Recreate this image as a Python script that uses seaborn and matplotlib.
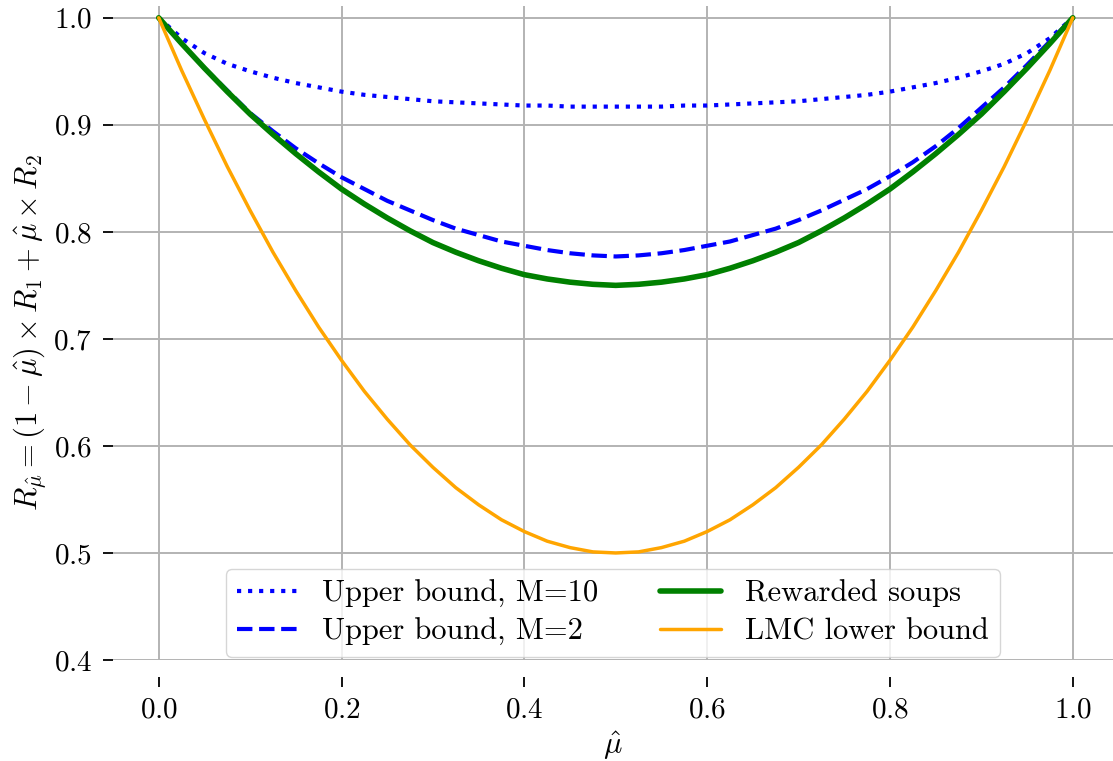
import pandas as pd
import matplotlib
matplotlib.use('Agg')
import matplotlib.pyplot as plt
import seaborn as sns

# values
mu = [0.0, 0.025, 0.05, 0.075, 0.1, 0.125, 0.15, 0.175, 0.2, 0.225, 0.25,
      0.275, 0.3, 0.325, 0.35, 0.375, 0.4, 0.425, 0.45, 0.475, 0.5,
      0.525, 0.55, 0.575, 0.6, 0.625, 0.65, 0.675, 0.7, 0.725, 0.75,
      0.775, 0.8, 0.825, 0.85, 0.875, 0.9, 0.925, 0.95, 0.975, 1.0]
upper_m10 = [1.0, 0.981, 0.967, 0.957, 0.950, 0.944, 0.939, 0.935, 0.931, 0.928, 0.926,
             0.924, 0.922, 0.921, 0.920, 0.919, 0.918, 0.918, 0.917, 0.917, 0.917,
             0.917, 0.917, 0.918, 0.918, 0.919, 0.920, 0.921, 0.922, 0.924, 0.926,
             0.928, 0.931, 0.935, 0.939, 0.944, 0.950, 0.957, 0.967, 0.981, 1.0]
upper_m2 = [1.0, 0.976, 0.953, 0.932, 0.911, 0.894, 0.878, 0.864, 0.851, 0.840, 0.829,
            0.820, 0.811, 0.803, 0.797, 0.791, 0.787, 0.783, 0.780, 0.778, 0.777,
            0.778, 0.780, 0.783, 0.787, 0.791, 0.797, 0.803, 0.811, 0.820, 0.830,
            0.840, 0.852, 0.865, 0.880, 0.897, 0.916, 0.935, 0.956, 0.978, 1.0]
rewarded_soups = [1.0, 0.976, 0.953, 0.931, 0.910, 0.891, 0.873, 0.856, 0.840, 0.826, 0.813,
                  0.801, 0.790, 0.781, 0.773, 0.766, 0.760, 0.756, 0.753, 0.751, 0.750,
                  0.751, 0.753, 0.756, 0.760, 0.766, 0.773, 0.781, 0.790, 0.801, 0.813,
                  0.826, 0.840, 0.856, 0.873, 0.891, 0.910, 0.931, 0.953, 0.976, 1.0]
lmc_lower = [1.0, 0.951, 0.905, 0.861, 0.820, 0.781, 0.745, 0.711, 0.680, 0.651, 0.625,
             0.601, 0.580, 0.561, 0.545, 0.531, 0.520, 0.511, 0.505, 0.501, 0.500,
             0.501, 0.505, 0.511, 0.520, 0.531, 0.545, 0.561, 0.580, 0.601, 0.625,
             0.651, 0.680, 0.711, 0.745, 0.781, 0.820, 0.861, 0.905, 0.951, 1.0]

x_ticks = [0.0, 0.2, 0.4, 0.6, 0.8, 1.0]
y_ticks = [0.4, 0.5, 0.6, 0.7, 0.8, 0.9, 1.0]

sns.set_style("whitegrid")
plt.rcParams['font.family'] = ['cmr10', 'DejaVu Serif']
plt.rcParams['mathtext.fontset'] = 'cm'
plt.rcParams['axes.formatter.use_mathtext'] = True
plt.rcParams['axes.unicode_minus'] = False
for key in ['text.color', 'axes.labelcolor', 'xtick.color', 'ytick.color']:
    plt.rcParams[key] = 'black'

fig = plt.figure(figsize=(11.13, 7.61), dpi=100)
ax = fig.add_axes([113 / 1113, 101 / 761, 1000 / 1113, 654 / 761])

df = pd.DataFrame({'mu': mu, 'm10': upper_m10, 'm2': upper_m2,
                   'rs': rewarded_soups, 'lmc': lmc_lower})

sns.lineplot(data=df, x='mu', y='m10', ax=ax, color='blue', linestyle=':', lw=3,
             label='Upper bound, M=10')
sns.lineplot(data=df, x='mu', y='m2', ax=ax, color='blue', linestyle='--', lw=3,
             label='Upper bound, M=2')
sns.lineplot(data=df, x='mu', y='rs', ax=ax, color='green', lw=4,
             label='Rewarded soups')
sns.lineplot(data=df, x='mu', y='lmc', ax=ax, color='orange', lw=2.5,
             label='LMC lower bound')

ax.set_xlim(-0.05, 1.044)
ax.set_ylim(0.4, 1.011)
ax.set_xticks(x_ticks)
ax.set_yticks(y_ticks)
ax.grid(True, color='#b3b3b3', lw=1.4)

# spines hidden, x ticks pushed below the plot
ax.spines['bottom'].set_position(('outward', 12))
for s in ax.spines.values():
    s.set_visible(False)
ax.tick_params(axis='both', which='major', bottom=True, left=True, length=7,
               width=1.3, color='black', labelcolor='black', labelsize=21, pad=8)

ax.set_xlabel(r'$\hat{\mu}$', fontsize=22)
ax.set_ylabel(r'$R_{\hat{\mu}} = (1-\hat{\mu}) \times R_1 + \hat{\mu} \times R_2$', fontsize=22)

leg = ax.legend(loc='lower center', ncol=2, fontsize=22, frameon=True,
                borderaxespad=0.1, handlelength=2, columnspacing=2,
                labelspacing=0.35, borderpad=0.35)
for t in leg.get_texts():
    t.set_color('black')

plt.savefig('out.png', dpi=100)
